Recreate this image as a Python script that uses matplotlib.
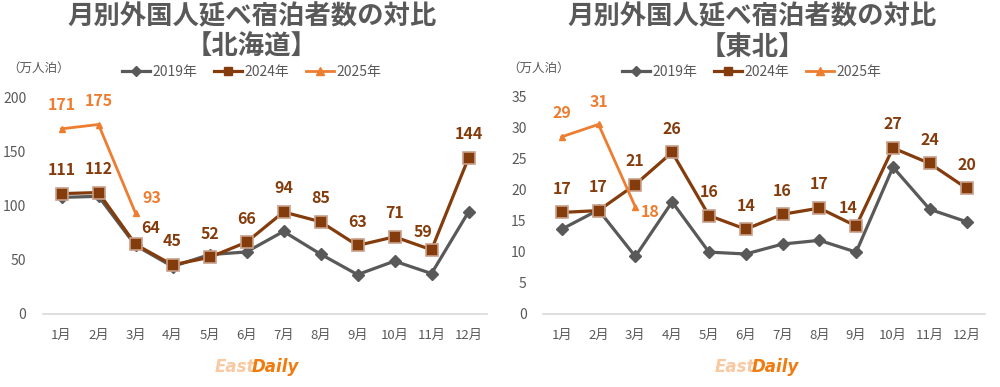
import matplotlib
matplotlib.use("Agg")
import matplotlib.pyplot as plt
from matplotlib.lines import Line2D

plt.rcParams['font.family'] = ['Noto Sans CJK JP', 'DejaVu Sans']

months = ["1月", "2月", "3月", "4月", "5月", "6月", "7月", "8月", "9月", "10月", "11月", "12月"]
series_names = ["2019年", "2024年", "2025年"]

# Hokkaido (万人泊)
hok_2019 = [107.5, 108.5, 63, 43.5, 54.5, 57, 76, 55, 36, 48.5, 37, 94]
hok_2024 = [111, 112, 64, 45, 52, 66, 94, 85, 63, 71, 59, 144]
hok_2025 = [171, 175, 93]

# Tohoku (万人泊)
toh_2019 = [13.6, 16.7, 9.2, 18.0, 9.9, 9.6, 11.2, 11.8, 9.9, 23.6, 16.8, 14.8]
toh_2024 = [16.3, 16.6, 20.8, 26.0, 15.8, 13.6, 16.0, 17.0, 14.1, 26.7, 24.2, 20.2]
toh_2024_labels = [17, 17, 21, 26, 16, 14, 16, 17, 14, 27, 24, 20]
toh_2025 = [28.5, 30.5, 17.2]
toh_2025_labels = [29, 31, 18]

C19 = "#595959"
C24 = "#843C0C"
C25 = "#ED7D31"
TXT = "#595959"

fig = plt.figure(figsize=(10, 3.87), dpi=100)


def label_offsets(n, special):
    offs = [(0, 17)] * n
    for k, v in special.items():
        offs[k] = v
    return offs


def draw(ax_rect, title2, s19, s24, l24, s25, l25, ymax, ystep, off24, off25, cx):
    ax = fig.add_axes(ax_rect)
    x = list(range(12))
    ax.plot(x, s19, color=C19, lw=2.3, marker="D", ms=6, mfc=C19, mec=C19, zorder=3)
    ax.plot(x, s24, color=C24, lw=2.3, marker="s", ms=8.5, mfc=C24, mec="#C9A08A",
            mew=1.2, zorder=4)
    ax.plot(x[:len(s25)], s25, color=C25, lw=2.0, marker="^", ms=5, mfc=C25, mec=C25,
            zorder=5)
    for i, (v, t) in enumerate(zip(s24, l24)):
        dx, dy = off24[i]
        ax.annotate(str(t), (i, v), xytext=(dx, dy), textcoords="offset points",
                    ha="center", va="center", color=C24, fontsize=11.5,
                    fontweight="bold", zorder=6)
    for i, (v, t) in enumerate(zip(s25, l25)):
        dx, dy = off25[i]
        ax.annotate(str(t), (i, v), xytext=(dx, dy), textcoords="offset points",
                    ha="center", va="center", color=C25, fontsize=11.5,
                    fontweight="bold", zorder=6)
    ax.set_xlim(-0.5, 11.5)
    ax.set_ylim(0, ymax)
    ax.set_yticks(range(0, ymax + 1, ystep))
    ax.set_xticks(x)
    ax.set_xticklabels(months)
    ax.tick_params(length=0, colors=TXT, labelsize=10)
    ax.tick_params(axis="x", pad=11, labelsize=9.5)
    ax.tick_params(axis="y", pad=12)
    for s in ["top", "right", "left"]:
        ax.spines[s].set_visible(False)
    ax.spines["bottom"].set_color("#D9D9D9")
    ax.spines["bottom"].set_linewidth(1.2)
    for lab in ax.get_yticklabels():
        lab.set_horizontalalignment("right")
    ax.patch.set_alpha(0)

    fig.text(cx / 1000, 1 - 17 / 387, "月別外国人延べ宿泊者数の対比", ha="center", va="center",
             fontsize=19, fontweight="bold", color=TXT)
    fig.text(cx / 1000, 1 - 47 / 387, title2, ha="center", va="center",
             fontsize=19, fontweight="bold", color=TXT)
    fig.text((ax_rect[0] * 1000 - 36) / 1000, 1 - 68 / 387, "（万人泊）", ha="left",
             va="center", fontsize=9, color=TXT)

    handles = [
        Line2D([], [], color=C19, lw=2.3, marker="D", ms=5),
        Line2D([], [], color=C24, lw=2.3, marker="s", ms=6),
        Line2D([], [], color=C25, lw=2.0, marker="^", ms=6),
    ]
    leg = fig.legend(handles, series_names, loc="center",
                     bbox_to_anchor=(cx / 1000, 1 - 72 / 387), ncol=3, frameon=False,
                     fontsize=10, handlelength=2.0, handletextpad=0.2, columnspacing=1.2)
    for t in leg.get_texts():
        t.set_color(TXT)

    fig.text((cx - 37) / 1000, 1 - 367 / 387, "East", ha="left", va="center",
             fontsize=12, fontweight="bold", style="italic", color="#F9C9A2",
             family="DejaVu Sans")
    fig.text((cx) / 1000, 1 - 367 / 387, "Daily", ha="left", va="center",
             fontsize=12, fontweight="bold", style="italic", color="#F07C10",
             family="DejaVu Sans")
    return ax


draw([0.043, 1 - 313.5 / 387, 0.444, 216 / 387], "【北海道】",
     hok_2019, hok_2024, hok_2024, hok_2025, hok_2025, 200, 50,
     label_offsets(12, {2: (11, 12), 10: (-6, 13)}),
     label_offsets(3, {2: (12, 11)}), 252)

draw([0.5433, 1 - 313.5 / 387, 0.4417, 217 / 387], "【東北】",
     toh_2019, toh_2024, toh_2024_labels, toh_2025, toh_2025_labels, 35, 5,
     label_offsets(12, {8: (-6, 13)}),
     label_offsets(3, {1: (0, 16), 2: (11, -4)}), 752)

fig.savefig("out.png", dpi=100)
